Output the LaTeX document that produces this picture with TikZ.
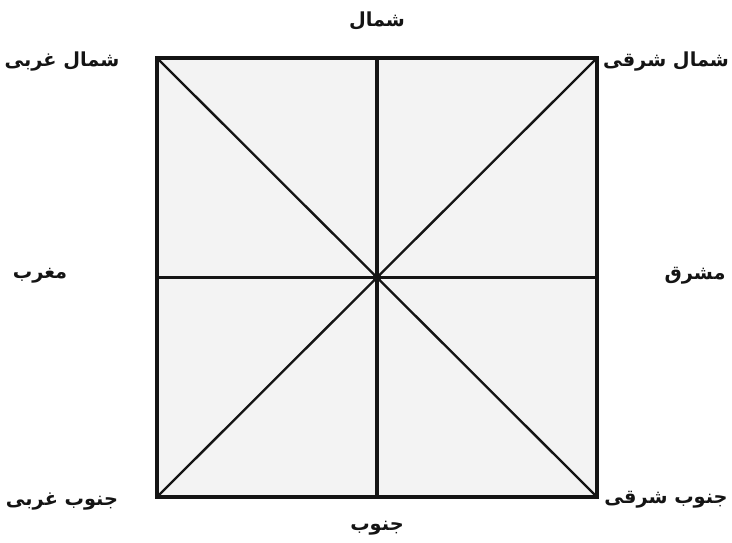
\documentclass[tikz,border=0pt]{standalone}
\usepackage{fontspec}
\newfontfamily\arabicfont[Script=Arabic]{DejaVu Sans}
\TeXXeTstate=1
\usepackage{tikz}
\usetikzlibrary{positioning}
\definecolor{inkP}{HTML}{141414}
\definecolor{paneF}{HTML}{F3F3F3}
\tikzset{
  dirlabel/.style={font=\arabicfont\bfseries\fontsize{16.5}{18}\selectfont, text=inkP, inner sep=0pt},
  spoke/.style={draw=inkP, line width=2pt},
  axis/.style={draw=inkP, line width=2.7pt},
  frame/.style={draw=inkP, line width=3.3pt}
}

\begin{document}
\begin{tikzpicture}[x=0.03cm, y=-0.03cm]
\useasboundingbox (0,0) rectangle (732,543);
% corners, edge midpoints and centre of the square
\coordinate (nw) at (157,58);
\coordinate (ne) at (597,58);
\coordinate (se) at (597,497);
\coordinate (sw) at (157,497);
\coordinate (n) at (377,58);
\coordinate (s) at (377,497);
\coordinate (w) at (157,277.5);
\coordinate (e) at (597,277.5);
\coordinate (c) at (377,277.5);
\fill[paneF] (nw) rectangle (se);
\draw[spoke] (nw) -- (se);
\draw[spoke] (ne) -- (sw);
\draw[axis] (n) -- (s);
\draw[axis] (w) -- (e);
\fill[inkP] (c) circle (4.5);
\draw[frame] (nw) rectangle (se);
% direction names
\node[dirlabel] (lblN) at (377,21) {\beginR شمال\endR};
\node[dirlabel] (lblS) at (377,528) {\beginR جنوب\endR};
\node[dirlabel] (lblW) at (40,276) {\beginR مغرب\endR};
\node[dirlabel] (lblE) at (695,276) {\beginR مشرق\endR};
\node[dirlabel] (lblNW) at (62,62) {\beginR شمال غربی\endR};
\node[dirlabel] (lblNE) at (666,62) {\beginR شمال شرقی\endR};
\node[dirlabel] (lblSW) at (62,502) {\beginR جنوب غربی\endR};
\node[dirlabel] (lblSE) at (666,500) {\beginR جنوب شرقی\endR};
\end{tikzpicture}
\end{document}
